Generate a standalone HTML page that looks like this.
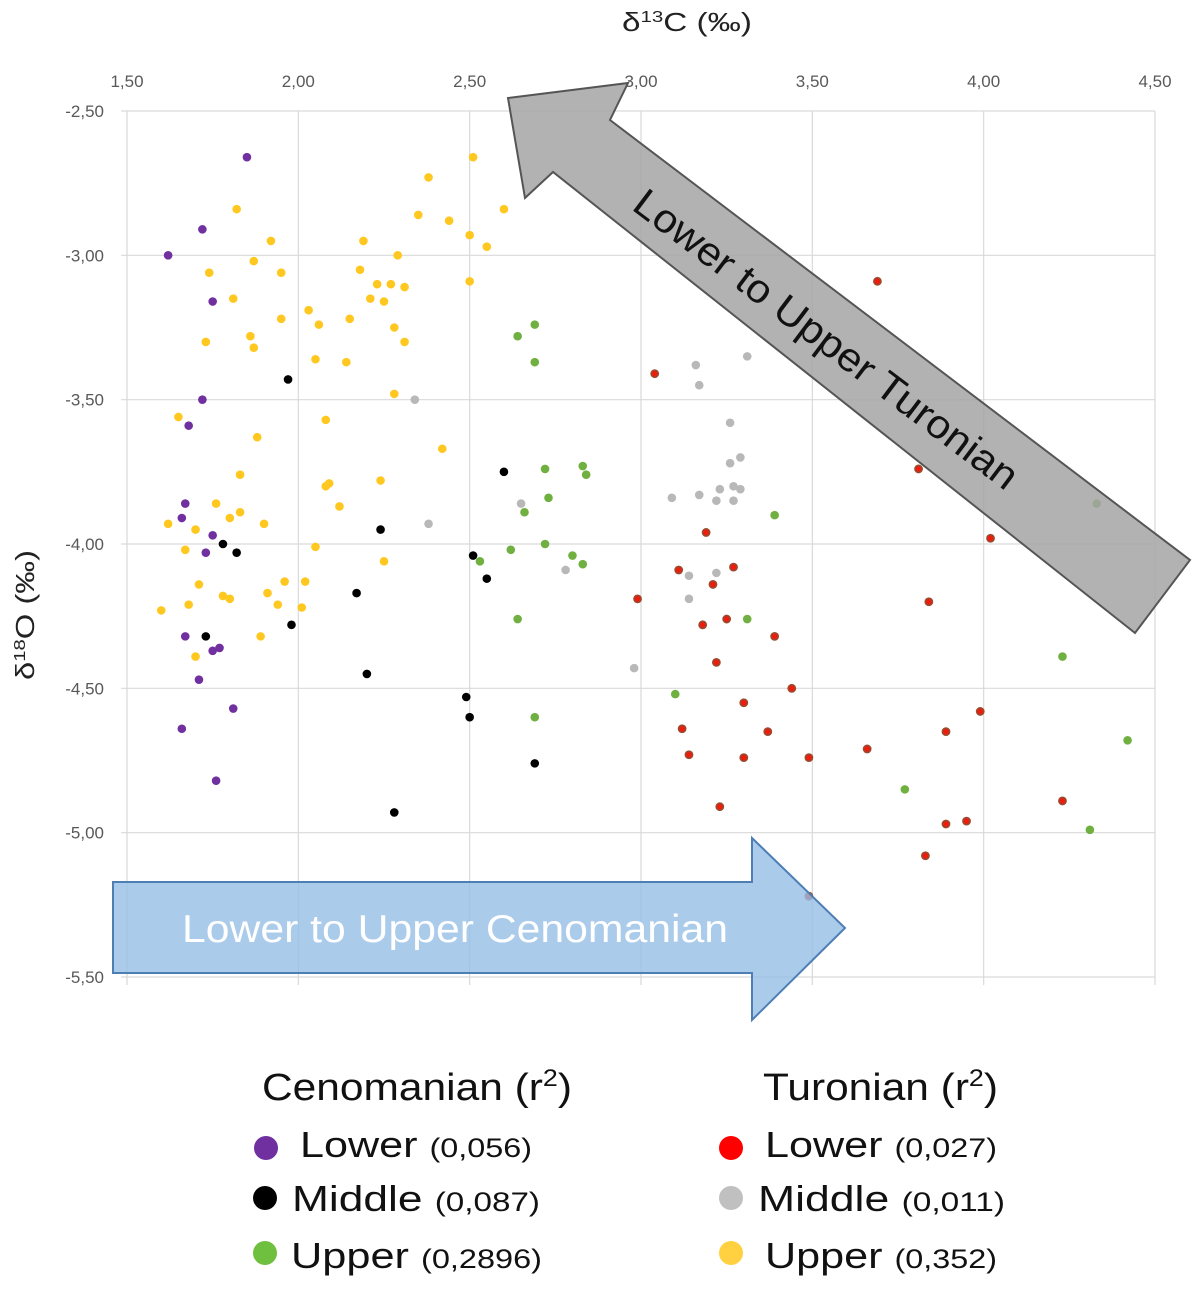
<!DOCTYPE html>
<html><head><meta charset="utf-8"><style>
html,body{margin:0;padding:0;background:#fff;}
svg{display:block;font-family:"Liberation Sans",sans-serif;}
</style></head><body>
<svg id="chart" width="1200" height="1291" viewBox="0 0 1200 1291" xmlns="http://www.w3.org/2000/svg">
<g id="grid"></g>
<g id="ticks"></g>
<text x="622" y="31" font-size="26" fill="#222" textLength="130" lengthAdjust="spacingAndGlyphs">δ<tspan font-size="16" dy="-9">13</tspan><tspan dy="9">C (‰)</tspan></text>
<text transform="translate(34,680) rotate(-90)" font-size="26" fill="#222" textLength="130" lengthAdjust="spacingAndGlyphs">δ<tspan font-size="16" dy="-9">18</tspan><tspan dy="9">O (‰)</tspan></text>
<g id="points"></g>
<polygon points="113,882 752,882 752,838 845,928 752,1020 752,973 113,973" fill="rgba(150,190,230,0.8)" stroke="#4d7fb5" stroke-width="2"/>
<text x="182" y="942" font-size="39" fill="#fff" textLength="546" lengthAdjust="spacingAndGlyphs">Lower to Upper Cenomanian</text>
<polygon points="508,98 628,83 610,120 1190,560 1135,633 553,172 525,198" fill="rgba(165,165,165,0.85)" stroke="#555" stroke-width="2"/>
<text transform="translate(818,350) rotate(37)" font-size="40" text-anchor="middle" fill="#111" textLength="470" lengthAdjust="spacingAndGlyphs">Lower to Upper Turonian</text>
<g>
<text x="262" y="1100" font-size="38" fill="#111" textLength="310" lengthAdjust="spacingAndGlyphs">Cenomanian (r<tspan font-size="24" dy="-14">2</tspan><tspan dy="14">)</tspan></text>
<text x="763" y="1100" font-size="38" fill="#111" textLength="235" lengthAdjust="spacingAndGlyphs">Turonian (r<tspan font-size="24" dy="-14">2</tspan><tspan dy="14">)</tspan></text>
<circle cx="266" cy="1148" r="12" fill="#7030a0"/>
<text x="300" y="1157" font-size="36" fill="#111" textLength="232" lengthAdjust="spacingAndGlyphs">Lower <tspan font-size="27">(0,056)</tspan></text>
<circle cx="265" cy="1198" r="12" fill="#000"/>
<text x="292" y="1211" font-size="36" fill="#111" textLength="248" lengthAdjust="spacingAndGlyphs">Middle <tspan font-size="27">(0,087)</tspan></text>
<circle cx="265" cy="1253" r="12" fill="#70c040"/>
<text x="291" y="1268" font-size="36" fill="#111" textLength="251" lengthAdjust="spacingAndGlyphs">Upper <tspan font-size="27">(0,2896)</tspan></text>
<circle cx="731" cy="1148" r="12" fill="#ff0000"/>
<text x="765" y="1157" font-size="36" fill="#111" textLength="232" lengthAdjust="spacingAndGlyphs">Lower <tspan font-size="27">(0,027)</tspan></text>
<circle cx="731" cy="1198" r="12" fill="#c0c0c0"/>
<text x="758" y="1211" font-size="36" fill="#111" textLength="247" lengthAdjust="spacingAndGlyphs">Middle <tspan font-size="27">(0,011)</tspan></text>
<circle cx="731" cy="1253" r="12" fill="#ffd040"/>
<text x="765" y="1268" font-size="36" fill="#111" textLength="232" lengthAdjust="spacingAndGlyphs">Upper <tspan font-size="27">(0,352)</tspan></text>
</g>
</svg>
<script>
const xTicks=[1.5,2.0,2.5,3.0,3.5,4.0,4.5];
const yTicks=[-2.5,-3.0,-3.5,-4.0,-4.5,-5.0,-5.5];
const tickLabelsX=["1,50","2,00","2,50","3,00","3,50","4,00","4,50"];
const tickLabelsY=["-2,50","-3,00","-3,50","-4,00","-4,50","-5,00","-5,50"];
const lowerCenX=[1.85,1.62,1.72,1.75,1.72,1.68,1.67,1.66,1.73,1.75,1.67,1.71,1.75,1.77,1.81,1.66,1.76];
const lowerCenY=[-2.66,-3.00,-2.91,-3.16,-3.50,-3.59,-3.86,-3.91,-4.03,-3.97,-4.32,-4.47,-4.37,-4.36,-4.57,-4.64,-4.82];
const middleCenX=[1.97,1.78,1.82,1.73,1.98,2.17,2.20,2.24,2.60,2.51,2.55,2.49,2.50,2.69,2.28];
const middleCenY=[-3.43,-4.00,-4.03,-4.32,-4.28,-4.17,-4.45,-3.95,-3.75,-4.04,-4.12,-4.53,-4.60,-4.76,-4.93];
const upperCenX=[2.64,2.69,2.69,2.72,2.83,2.84,2.73,2.66,3.39,2.72,2.62,2.80,2.83,2.64,3.31,2.69,3.10,3.77,4.23,4.42,4.33,4.31,2.53];
const upperCenY=[-3.28,-3.24,-3.37,-3.74,-3.73,-3.76,-3.84,-3.89,-3.90,-4.00,-4.02,-4.04,-4.07,-4.26,-4.26,-4.60,-4.52,-4.85,-4.39,-4.68,-3.86,-4.99,-4.06];
const lowerTurX=[3.69,3.04,3.81,4.02,3.19,3.11,3.27,3.21,2.99,3.84,3.18,3.25,3.39,3.22,3.44,3.30,3.99,3.12,3.37,3.89,3.14,3.30,3.49,3.66,3.23,3.89,3.95,4.23,3.83,3.49];
const lowerTurY=[-3.09,-3.41,-3.74,-3.98,-3.96,-4.09,-4.08,-4.14,-4.19,-4.20,-4.28,-4.26,-4.32,-4.41,-4.50,-4.55,-4.58,-4.64,-4.65,-4.65,-4.73,-4.74,-4.74,-4.71,-4.91,-4.97,-4.96,-4.89,-5.08,-5.22];
const middleTurX=[3.31,3.16,3.17,2.34,3.26,3.26,3.29,2.38,2.65,3.09,3.17,3.23,3.27,3.29,3.22,3.27,3.14,3.22,3.14,2.78,2.98];
const middleTurY=[-3.35,-3.38,-3.45,-3.50,-3.58,-3.72,-3.70,-3.93,-3.86,-3.84,-3.83,-3.81,-3.80,-3.81,-3.85,-3.85,-4.11,-4.10,-4.19,-4.09,-4.43];
const upperTurX=[2.51,2.38,1.82,2.60,2.35,2.44,1.92,2.19,2.50,2.55,2.29,1.87,1.74,1.95,2.18,2.50,2.23,2.27,2.31,1.81,2.21,2.25,2.03,1.95,2.15,2.06,2.28,1.86,1.73,1.87,2.31,2.05,2.14,2.28,1.65,2.08,1.88,2.42,1.83,2.24,2.08,2.09,2.12,1.76,1.83,1.80,1.62,1.70,1.90,1.67,2.05,2.25,1.71,1.96,2.02,1.91,1.78,1.80,1.94,1.68,2.01,1.60,1.89,1.70];
const upperTurY=[-2.66,-2.73,-2.84,-2.84,-2.86,-2.88,-2.95,-2.95,-2.93,-2.97,-3.00,-3.02,-3.06,-3.06,-3.05,-3.09,-3.10,-3.10,-3.11,-3.15,-3.15,-3.16,-3.19,-3.22,-3.22,-3.24,-3.25,-3.28,-3.30,-3.32,-3.30,-3.36,-3.37,-3.48,-3.56,-3.57,-3.63,-3.67,-3.76,-3.78,-3.80,-3.79,-3.87,-3.86,-3.89,-3.91,-3.93,-3.95,-3.93,-4.02,-4.01,-4.06,-4.14,-4.13,-4.13,-4.17,-4.18,-4.19,-4.21,-4.21,-4.22,-4.23,-4.32,-4.39];

const NS="http://www.w3.org/2000/svg";
const X0=127,X1=1155,Y0=111,Y1=977;
function sx(v){return X0+(v-1.5)/3.0*(X1-X0);}
function sy(v){return Y0+(-2.5-v)/3.0*(Y1-Y0);}
function mk(tag,attrs,parent){const e=document.createElementNS(NS,tag);for(const k in attrs)e.setAttribute(k,attrs[k]);parent.appendChild(e);return e;}
const grid=document.getElementById('grid'),ticks=document.getElementById('ticks'),pts=document.getElementById('points');
xTicks.forEach((v,i)=>{
  const l=mk('line',{x1:sx(v),x2:sx(v),y1:Y0,y2:Y1+8,stroke:'#d9d9d9','stroke-width':1.2},grid);
  
  
  const t=mk('text',{x:sx(v),y:87,'font-size':17,'text-anchor':'middle',fill:'#595959'},ticks);
  t.textContent=tickLabelsX[i];
  
  
});
yTicks.forEach((v,i)=>{
  const l=mk('line',{x1:X0-6,x2:X1,y1:sy(v),y2:sy(v),stroke:'#d9d9d9','stroke-width':1.2},grid);
  
  
  const t=mk('text',{x:104,y:sy(v)+6,'font-size':17,'text-anchor':'end',fill:'#595959'},ticks);
  t.textContent=tickLabelsY[i];
  
  
});
const series=[
  [upperTurX,upperTurY,'#ffc820',null,4.3,'point-upper-turonian'],
  [upperCenX,upperCenY,'#70b040',null,4.3,'point-upper-cenomanian'],
  [middleTurX,middleTurY,'#b8b8b8',null,4.3,'point-middle-turonian'],
  [lowerTurX,lowerTurY,'#ee1c0c','#9a4a30',3.6,'point-lower-turonian'],
  [middleCenX,middleCenY,'#000',null,4.3,'point-middle-cenomanian'],
  [lowerCenX,lowerCenY,'#7030a0',null,4.3,'point-lower-cenomanian']
];
series.forEach(s=>{
  s[0].forEach((v,i)=>{
    const c=mk('circle',{cx:sx(v),cy:sy(s[1][i]),r:s[4],fill:s[2]},pts);
    if(s[3]){c.setAttribute('stroke',s[3]);c.setAttribute('stroke-width','1.6');}
    
    
  });
});
</script>
</body></html>
